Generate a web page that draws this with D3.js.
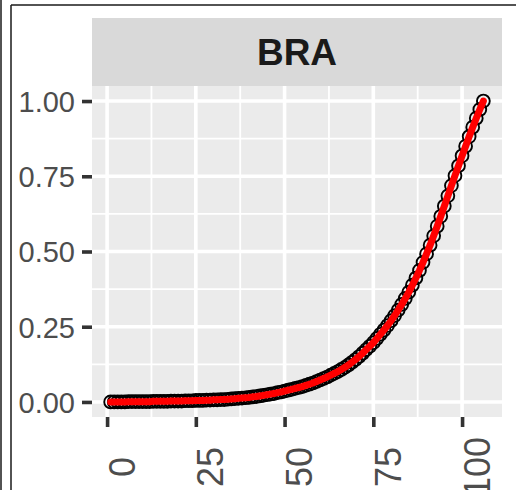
<!DOCTYPE html>
<html>
<head>
<meta charset="utf-8">
<script src="https://cdn.jsdelivr.net/npm/d3@7"></script>
<style>
  html, body { margin: 0; padding: 0; background: #ffffff; }
  svg { display: block; }
</style>
</head>
<body>
<script>
// ---- data ----
const panelLabel = "BRA";
const xValues = [
  1,2,3,4,5,6,7,8,9,10,11,12,13,14,15,16,17,18,19,20,
  21,22,23,24,25,26,27,28,29,30,31,32,33,34,35,36,37,38,39,40,
  41,42,43,44,45,46,47,48,49,50,51,52,53,54,55,56,57,58,59,60,
  61,62,63,64,65,66,67,68,69,70,71,72,73,74,75,76,77,78,79,80,
  81,82,83,84,85,86,87,88,89,90,91,92,93,94,95,96,97,98,99,100,
  101,102,103,104,105,106
];
const yValues = [
  0.000,0.000,0.000,0.000,0.000,0.001,0.001,0.001,0.001,0.001,
  0.001,0.001,0.002,0.002,0.002,0.002,0.002,0.003,0.003,0.003,
  0.003,0.004,0.004,0.004,0.005,0.005,0.005,0.006,0.006,0.007,
  0.007,0.008,0.008,0.009,0.010,0.011,0.012,0.013,0.014,0.015,
  0.017,0.018,0.020,0.022,0.024,0.026,0.028,0.031,0.033,0.036,
  0.039,0.042,0.045,0.048,0.051,0.055,0.059,0.063,0.068,0.073,
  0.078,0.083,0.089,0.095,0.101,0.108,0.115,0.123,0.132,0.141,
  0.151,0.162,0.174,0.185,0.197,0.211,0.225,0.239,0.254,0.270,
  0.287,0.305,0.324,0.344,0.365,0.388,0.412,0.437,0.464,0.492,
  0.521,0.552,0.584,0.617,0.651,0.685,0.719,0.752,0.785,0.818,
  0.850,0.882,0.913,0.943,0.972,1.000
];
const xTicks = [0, 25, 50, 75, 100];
const xTickLabels = ["0", "25", "50", "75", "100"];
const yTicks = [0, 0.25, 0.5, 0.75, 1];
const yTickLabels = ["0.00", "0.25", "0.50", "0.75", "1.00"];
const xMinor = [12.5, 37.5, 62.5, 87.5];
const yMinor = [0.125, 0.375, 0.625, 0.875];

// ---- layout ----
const W = 516, H = 490;
const panel = { left: 92, right: 502, top: 86, bottom: 417 };
const strip = { top: 18, bottom: 86 };
const font = "'Liberation Sans', Arial, Helvetica, sans-serif";

const svg = d3.select("body").append("svg")
  .attr("width", W).attr("height", H)
  .style("font-family", font);

svg.append("rect").attr("width", W).attr("height", H).attr("fill", "#ffffff");

// outer frame lines
svg.append("line").attr("x1", 1).attr("x2", 1).attr("y1", 0).attr("y2", H)
  .attr("stroke", "#1a1a1a").attr("stroke-width", 1.5);
svg.append("line").attr("x1", 11).attr("x2", 11).attr("y1", 5).attr("y2", H)
  .attr("stroke", "#1a1a1a").attr("stroke-width", 1.5);
svg.append("line").attr("x1", 11).attr("x2", W).attr("y1", 5).attr("y2", 5)
  .attr("stroke", "#1a1a1a").attr("stroke-width", 1.5);

// scales (ggplot-style 5% expansion of data range)
const xExt = d3.extent(xValues);
const xPad = (xExt[1] - xExt[0]) * 0.05;
const x = d3.scaleLinear().domain([xExt[0] - xPad, xExt[1] + xPad])
  .range([panel.left, panel.right]);
const y = d3.scaleLinear().domain([-0.05, 1.05])
  .range([panel.bottom, panel.top]);

// strip
svg.append("rect")
  .attr("x", panel.left).attr("y", strip.top)
  .attr("width", panel.right - panel.left).attr("height", strip.bottom - strip.top)
  .attr("fill", "#d9d9d9");
svg.append("text")
  .attr("x", (panel.left + panel.right) / 2).attr("y", 65)
  .attr("text-anchor", "middle")
  .attr("font-size", 37).attr("font-weight", "bold")
  .attr("fill", "#1a1a1a")
  .text(panelLabel);

// panel background
svg.append("rect")
  .attr("x", panel.left).attr("y", panel.top)
  .attr("width", panel.right - panel.left).attr("height", panel.bottom - panel.top)
  .attr("fill", "#ebebeb");

const grid = svg.append("g");
// minor grid
grid.selectAll(".xminor").data(xMinor).enter().append("line")
  .attr("x1", d => x(d)).attr("x2", d => x(d))
  .attr("y1", panel.top).attr("y2", panel.bottom)
  .attr("stroke", "#ffffff").attr("stroke-width", 1.8);
grid.selectAll(".yminor").data(yMinor).enter().append("line")
  .attr("y1", d => y(d)).attr("y2", d => y(d))
  .attr("x1", panel.left).attr("x2", panel.right)
  .attr("stroke", "#ffffff").attr("stroke-width", 1.8);
// major grid
grid.selectAll(".xmajor").data(xTicks).enter().append("line")
  .attr("x1", d => x(d)).attr("x2", d => x(d))
  .attr("y1", panel.top).attr("y2", panel.bottom)
  .attr("stroke", "#ffffff").attr("stroke-width", 3.6);
grid.selectAll(".ymajor").data(yTicks).enter().append("line")
  .attr("y1", d => y(d)).attr("y2", d => y(d))
  .attr("x1", panel.left).attr("x2", panel.right)
  .attr("stroke", "#ffffff").attr("stroke-width", 3.6);

// axes
const yAxis = d3.axisLeft(y).tickValues(yTicks)
  .tickFormat((d, i) => yTickLabels[i]).tickSize(10).tickPadding(7);
const gy = svg.append("g").attr("transform", `translate(${panel.left},0)`).call(yAxis);
gy.select(".domain").remove();
gy.selectAll(".tick line").attr("stroke", "#333333").attr("stroke-width", 3.6);
gy.selectAll(".tick text")
  .attr("font-size", 29).attr("fill", "#4d4d4d")
  .attr("font-family", font)
  .attr("x", -17).attr("dy", "0.36em");

const xAxis = d3.axisBottom(x).tickValues(xTicks)
  .tickFormat((d, i) => xTickLabels[i]).tickSize(10);
const gx = svg.append("g").attr("transform", `translate(0,${panel.bottom})`).call(xAxis);
gx.select(".domain").remove();
gx.selectAll(".tick line").attr("stroke", "#333333").attr("stroke-width", 3.6);
gx.selectAll(".tick text")
  .attr("font-size", 36).attr("fill", "#4d4d4d")
  .attr("font-family", font)
  .attr("text-anchor", "middle")
  .attr("x", null).attr("y", null).attr("dy", null)
  .attr("transform", "translate(0,50) rotate(-90)")
  .attr("dy", 27);

// data
const pts = xValues.map((v, i) => ({ x: v, y: yValues[i] }));
svg.append("g").selectAll("circle").data(pts).enter().append("circle")
  .attr("cx", d => x(d.x)).attr("cy", d => y(d.y))
  .attr("r", 6.4)
  .attr("fill", "none").attr("stroke", "#000000").attr("stroke-width", 1.9);

const line = d3.line().x(d => x(d.x)).y(d => y(d.y));
svg.append("path").datum(pts)
  .attr("d", line)
  .attr("fill", "none").attr("stroke", "#ff0000")
  .attr("stroke-width", 7).attr("stroke-linecap", "round").attr("stroke-linejoin", "round");
</script>
</body>
</html>
